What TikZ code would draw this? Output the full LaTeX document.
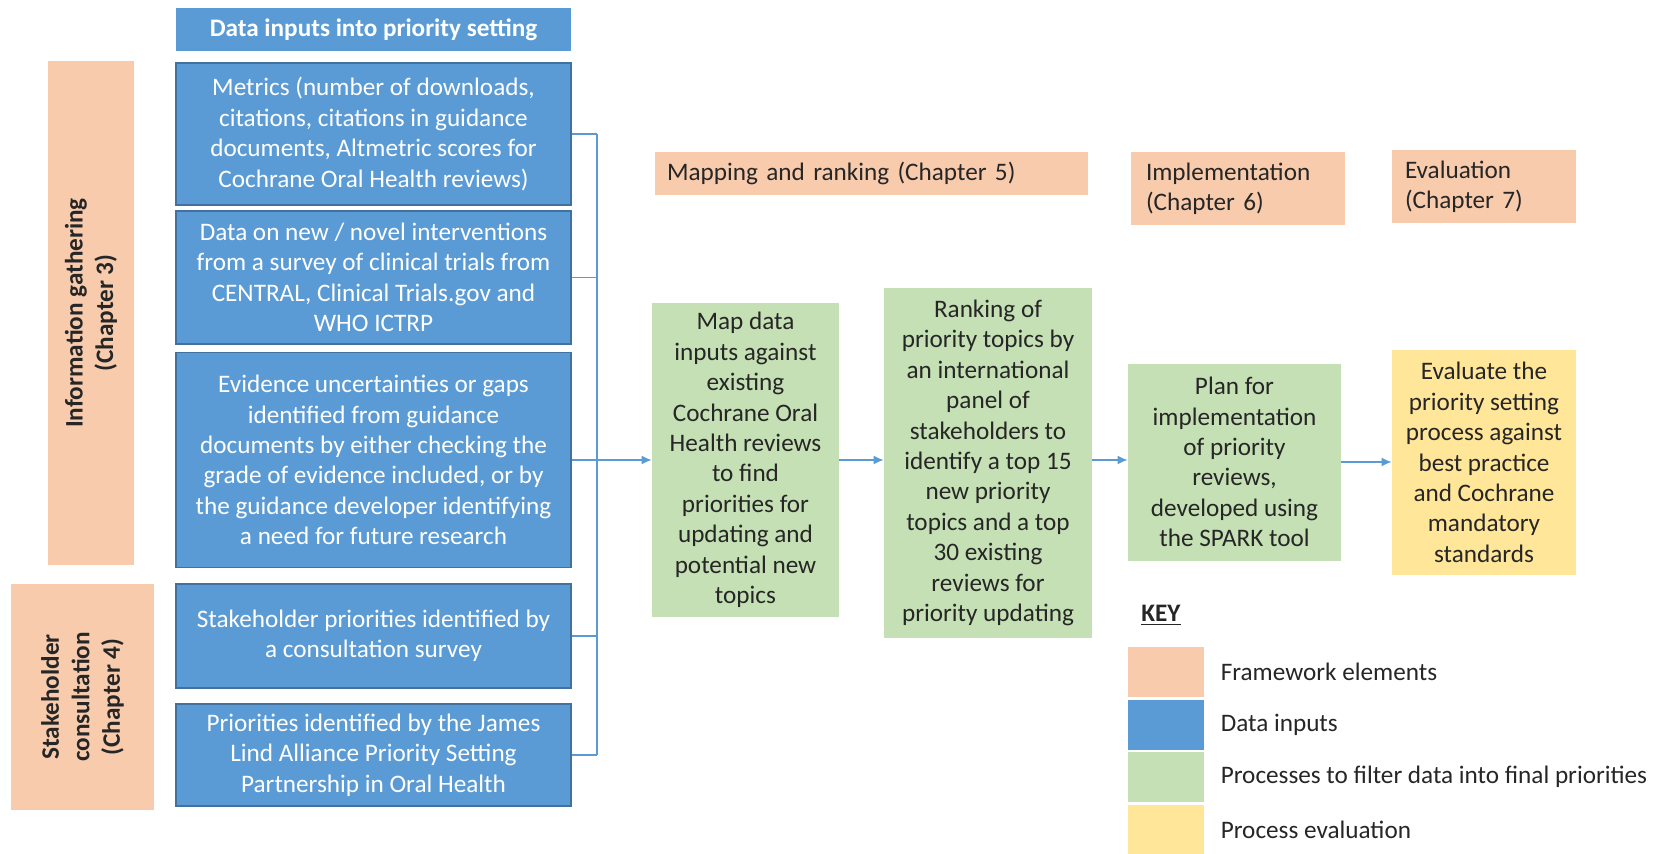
\documentclass[tikz,border=0pt]{standalone}
\usepackage{fontspec}
\setmainfont{Carlito}
\usetikzlibrary{positioning}
\usetikzlibrary{arrows.meta}

\definecolor{frameorange}{HTML}{F8CBAD}
\definecolor{datablue}{HTML}{5B9BD5}
\definecolor{databorder}{HTML}{41719C}
\definecolor{procgreen}{HTML}{C5E0B4}
\definecolor{evalyellow}{HTML}{FFE699}
\definecolor{inktext}{HTML}{262626}

\newcommand{\boxfont}{\fontsize{12.6}{15.2}\selectfont}

\tikzstyle{framebox}=[fill=frameorange, text=inktext, inner sep=0pt]
\tikzstyle{databox}=[fill=datablue, draw=databorder, line width=0.8pt, text=white, align=center, minimum width=197.5pt, inner sep=0pt]
\tikzstyle{procbox}=[fill=procgreen, text=inktext, align=center, inner sep=0pt]
\tikzstyle{evalbox}=[fill=evalyellow, text=inktext, align=center, inner sep=0pt]
\tikzstyle{link}=[draw=datablue, line width=0.7pt]
\tikzstyle{flow}=[link, -{Latex[length=5pt,width=4.5pt]}, datablue]

\begin{document}
\begin{tikzpicture}[x=0.5pt, y=-0.5pt, font=\boxfont]

  \useasboundingbox (0,0) rectangle (1656,853);

  % framework elements
  \node[framebox, rotate=90, align=center, font=\boxfont\bfseries, minimum width=252pt, minimum height=43pt] (infogath) at (91,313) {Information gathering\\(Chapter 3)};
  \node[framebox, rotate=90, align=center, font=\boxfont\bfseries, minimum width=113pt, minimum height=71.5pt] (stakecons) at (82.5,697) {Stakeholder\\consultation\\(Chapter 4)};
  \node[framebox, align=left, text width=204.5pt, inner xsep=6pt, minimum height=21.5pt] (mapping) at (871.5,173.5) {Mapping and ranking (Chapter 5)};
  \node[framebox, align=left, text width=92pt, inner xsep=7.5pt, minimum height=36.5pt] (implement) at (1238,188.5) {Implementation\\(Chapter 6)};
  \node[framebox, align=left, text width=79pt, inner xsep=6.5pt, minimum height=36.5pt] (evalhead) at (1484,186.5) {Evaluation\\(Chapter 7)};

  % data inputs
  \node[databox, draw=none, font=\boxfont\bfseries, minimum height=21.5pt] (title) at (373.5,29.5) {Data inputs into priority setting};
  \node[databox, minimum height=71pt] (metrics) at (373.5,134) {Metrics (number of downloads,\\citations, citations in guidance\\documents, Altmetric scores for\\Cochrane Oral Health reviews)};
  \node[databox, minimum height=66.5pt] (trials) at (373.5,277.5) {Data on new / novel interventions\\from a survey of clinical trials from\\CENTRAL, Clinical Trials.gov and\\WHO ICTRP};
  \node[databox, minimum height=107.5pt] (gaps) at (373.5,460) {Evidence uncertainties or gaps\\identified from guidance\\documents by either checking the\\grade of evidence included, or by\\the guidance developer identifying\\a need for future research};
  \node[databox, minimum height=52pt] (survey) at (373.5,636) {Stakeholder priorities identified by\\a consultation survey};
  \node[databox, minimum height=51pt] (jla) at (373.5,755) {Priorities identified by the James\\Lind Alliance Priority Setting\\Partnership in Oral Health};

  % processes
  \node[procbox, minimum width=93.5pt, minimum height=157pt] (mapdata) at (745.5,460) {Map data\\inputs against\\existing\\Cochrane Oral\\Health reviews\\to find\\priorities for\\updating and\\potential new\\topics};
  \node[procbox, minimum width=104pt, minimum height=175pt] (ranking) at (988,463) {Ranking of\\priority topics by\\an international\\panel of\\stakeholders to\\identify a top 15\\new priority\\topics and a top\\30 existing\\reviews for\\priority updating};
  \node[procbox, minimum width=106.5pt, minimum height=98.5pt] (plan) at (1234.5,462) {Plan for\\implementation\\of priority\\reviews,\\developed using\\the SPARK tool};
  \node[evalbox, minimum width=92pt, minimum height=112.5pt] (evaluate) at (1484,462.5) {Evaluate the\\priority setting\\process against\\best practice\\and Cochrane\\mandatory\\standards};

  % bracket joining the inputs
  \coordinate (bus) at (597,0);
  \foreach \src in {metrics,trials,gaps,survey,jla}
    \draw[link] (\src.east) -- (\src.east -| bus);
  \draw[link] (metrics.east -| bus) -- (jla.east -| bus);

  \draw[flow] (gaps.east) -- (mapdata.west);
  \draw[flow] (mapdata.east) -- (mapdata.east -| ranking.west);
  \draw[flow] (ranking.east |- mapdata.east) -- (mapdata.east -| plan.west);
  \draw[flow] (plan.east) -- (plan.east -| evaluate.west);

  % key
  \node[anchor=west, inner sep=0pt, text=inktext] (keyhead) at (1141,615) {\underline{\textbf{KEY}}};
  \foreach \col/\lbl [count=\i] in {frameorange/Framework elements, datablue/Data inputs, procgreen/Processes to filter data into final priorities, evalyellow/Process evaluation}{
    \node[fill=\col, minimum width=38pt, minimum height=25pt, inner sep=0pt] (swatch\i) at (1166,{619.5+52.5*\i}) {};
    \node[right=8pt of swatch\i, inner sep=0pt, text=inktext] (keytext\i) {\lbl};
  }

\end{tikzpicture}
\end{document}
